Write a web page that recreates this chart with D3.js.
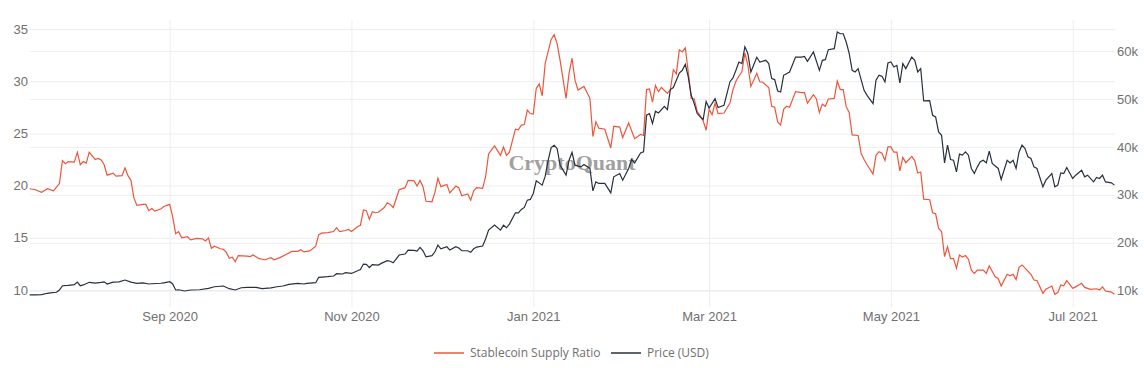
<!DOCTYPE html>
<html>
<head>
<meta charset="utf-8">
<script src="https://cdn.jsdelivr.net/npm/d3@7"></script>
<style>
  body { margin: 0; background: #fff; }
  svg { display: block; font-family: "Open Sans", sans-serif; }
  .axis text { fill: #707070; font-size: 13px; }
  .axis path { display: none; }
  .grid line { stroke: #eeeeee; stroke-width: 1; }
</style>
</head>
<body>
<svg width="1144" height="368"></svg>
<script>
// Stablecoin Supply Ratio (left axis)
var ssrDates = ['2020-07-16','2020-07-18','2020-07-20','2020-07-22','2020-07-24','2020-07-26','2020-07-27','2020-07-28','2020-07-29','2020-07-31',
  '2020-08-01','2020-08-02','2020-08-03','2020-08-04','2020-08-05','2020-08-07','2020-08-08','2020-08-09','2020-08-10','2020-08-11',
  '2020-08-13','2020-08-14','2020-08-16','2020-08-17','2020-08-18','2020-08-19','2020-08-20','2020-08-21','2020-08-23','2020-08-24',
  '2020-08-25','2020-08-26','2020-08-27','2020-08-29','2020-08-30','2020-09-01','2020-09-02','2020-09-03','2020-09-04','2020-09-05',
  '2020-09-07','2020-09-08','2020-09-10','2020-09-12','2020-09-13','2020-09-14','2020-09-15','2020-09-16','2020-09-18','2020-09-19',
  '2020-09-20','2020-09-21','2020-09-22','2020-09-23','2020-09-24','2020-09-27','2020-09-28','2020-09-29','2020-10-01','2020-10-03',
  '2020-10-05','2020-10-06','2020-10-08','2020-10-10','2020-10-12','2020-10-14','2020-10-15','2020-10-16','2020-10-18','2020-10-20',
  '2020-10-21','2020-10-22','2020-10-24','2020-10-26','2020-10-27','2020-10-28','2020-10-30','2020-10-31','2020-11-01','2020-11-03',
  '2020-11-04','2020-11-05','2020-11-06','2020-11-07','2020-11-08','2020-11-09','2020-11-10','2020-11-12','2020-11-13','2020-11-14',
  '2020-11-15','2020-11-17','2020-11-19','2020-11-20','2020-11-22','2020-11-23','2020-11-24','2020-11-25','2020-11-26','2020-11-28',
  '2020-11-29','2020-11-30','2020-12-01','2020-12-03','2020-12-04','2020-12-06','2020-12-07','2020-12-08','2020-12-10','2020-12-11',
  '2020-12-12','2020-12-13','2020-12-15','2020-12-16','2020-12-17','2020-12-19','2020-12-21','2020-12-22','2020-12-23','2020-12-24',
  '2020-12-26','2020-12-27','2020-12-28','2020-12-29','2020-12-30','2020-12-31','2021-01-01','2021-01-02','2021-01-03','2021-01-04',
  '2021-01-05','2021-01-07','2021-01-08','2021-01-09','2021-01-10','2021-01-12','2021-01-13','2021-01-14','2021-01-15','2021-01-16',
  '2021-01-18','2021-01-20','2021-01-21','2021-01-22','2021-01-23','2021-01-25','2021-01-27','2021-01-28','2021-01-30','2021-01-31',
  '2021-02-02','2021-02-04','2021-02-06','2021-02-07','2021-02-08','2021-02-09','2021-02-10','2021-02-11','2021-02-12','2021-02-13',
  '2021-02-15','2021-02-16','2021-02-17','2021-02-18','2021-02-19','2021-02-20','2021-02-21','2021-02-22','2021-02-23','2021-02-24',
  '2021-02-25','2021-02-26','2021-02-27','2021-02-28','2021-03-01','2021-03-02','2021-03-03','2021-03-04','2021-03-06','2021-03-08',
  '2021-03-09','2021-03-10','2021-03-11','2021-03-12','2021-03-13','2021-03-14','2021-03-15','2021-03-17','2021-03-18','2021-03-19',
  '2021-03-21','2021-03-22','2021-03-23','2021-03-24','2021-03-25','2021-03-26','2021-03-27','2021-03-28','2021-03-30','2021-04-01',
  '2021-04-02','2021-04-03','2021-04-05','2021-04-06','2021-04-07','2021-04-08','2021-04-09','2021-04-10','2021-04-12','2021-04-13',
  '2021-04-14','2021-04-15','2021-04-16','2021-04-17','2021-04-18','2021-04-20','2021-04-21','2021-04-22','2021-04-23','2021-04-25',
  '2021-04-26','2021-04-27','2021-04-28','2021-04-29','2021-04-30','2021-05-01','2021-05-02','2021-05-03','2021-05-04','2021-05-05',
  '2021-05-06','2021-05-08','2021-05-09','2021-05-10','2021-05-11','2021-05-12','2021-05-14','2021-05-15','2021-05-16','2021-05-17',
  '2021-05-18','2021-05-19','2021-05-20','2021-05-21','2021-05-22','2021-05-23','2021-05-24','2021-05-25','2021-05-26','2021-05-27',
  '2021-05-28','2021-05-29','2021-05-30','2021-06-01','2021-06-02','2021-06-03','2021-06-05','2021-06-06','2021-06-07','2021-06-09',
  '2021-06-10','2021-06-11','2021-06-12','2021-06-13','2021-06-14','2021-06-15','2021-06-17','2021-06-18','2021-06-19','2021-06-21',
  '2021-06-22','2021-06-24','2021-06-25','2021-06-26','2021-06-27','2021-06-28','2021-06-29','2021-07-01','2021-07-02','2021-07-04',
  '2021-07-05','2021-07-07','2021-07-09','2021-07-10','2021-07-11','2021-07-12','2021-07-14','2021-07-15'];
var ssrValues = [19.7,19.6,19.35,19.7,19.5,20.2,22.4,22.1,22.3,22.25,
  23.2,22.0,22.3,22.15,23.2,22.5,22.6,22.45,22.0,21.0,
  21.2,20.9,20.95,21.7,20.95,20.5,18.8,18.1,18.2,18.2,
  17.6,17.8,17.55,17.75,18.0,18.2,17.0,15.4,15.6,15.0,
  15.1,14.8,14.95,14.9,14.7,15.0,14.0,14.2,13.95,13.9,
  13.6,13.04,13.15,12.7,13.3,13.25,13.2,13.35,13.0,12.9,
  13.1,12.9,13.1,13.4,13.7,13.7,13.85,13.65,13.75,14.2,
  15.3,15.45,15.5,15.6,15.97,15.6,15.7,15.8,15.6,16.05,
  16.2,17.66,17.6,16.77,17.5,17.4,17.45,17.9,18.36,18.2,
  17.9,19.6,19.8,20.5,20.45,19.96,20.5,19.9,18.5,18.45,
  19.35,20.7,19.9,20.1,19.3,19.96,19.8,19.03,19.2,18.6,
  19.5,19.8,19.74,20.85,23.03,23.8,22.9,23.7,22.9,23.2,
  25.4,25.35,25.8,25.85,27.24,26.9,26.85,29.32,29.73,28.6,
  31.7,34.0,34.45,33.6,32.0,28.36,30.75,32.2,30.1,29.16,
  29.5,28.36,24.7,26.1,25.5,25.4,23.6,25.7,25.6,24.6,
  26.0,24.5,24.9,24.8,29.2,29.25,28.0,29.6,29.0,29.4,
  28.84,29.2,31.1,30.7,33.0,32.8,33.2,30.9,28.36,28.3,
  27.1,26.7,26.2,25.3,27.3,26.8,27.9,26.9,26.95,27.9,
  29.2,30.0,30.5,30.9,32.7,31.55,29.5,30.75,29.95,29.9,
  29.4,27.6,27.5,26.1,25.8,27.3,27.6,27.5,29.0,28.9,
  28.9,27.9,28.7,28.3,27.0,27.8,27.6,28.3,28.35,30.0,
  29.2,29.2,27.56,27.0,24.85,24.8,23.1,22.5,22.0,21.1,
  22.9,23.25,23.1,22.4,23.7,23.7,23.2,23.2,21.4,22.7,
  22.2,22.8,22.4,21.2,21.3,18.7,18.65,17.4,17.3,15.9,
  15.6,13.2,14.15,13.0,13.0,12.08,13.35,13.15,13.3,12.95,
  11.9,11.6,11.9,11.9,11.6,12.3,11.27,11.1,10.38,11.5,
  11.35,11.5,11.0,12.17,12.4,12.1,11.5,10.95,10.9,9.68,
  10.07,10.38,9.59,9.75,10.48,10.4,10.9,10.16,10.3,10.64,
  10.25,10.07,10.12,10.0,10.3,9.9,9.8,9.6];

// Price (USD) (right axis)
var priceDates = ['2020-07-16','2020-07-18','2020-07-20','2020-07-22','2020-07-23','2020-07-25','2020-07-26','2020-07-27','2020-07-29','2020-07-31',
  '2020-08-01','2020-08-02','2020-08-03','2020-08-05','2020-08-07','2020-08-09','2020-08-10','2020-08-11','2020-08-13','2020-08-15',
  '2020-08-17','2020-08-19','2020-08-21','2020-08-23','2020-08-25','2020-08-26','2020-08-29','2020-08-30','2020-09-01','2020-09-02',
  '2020-09-03','2020-09-04','2020-09-06','2020-09-08','2020-09-11','2020-09-14','2020-09-16','2020-09-19','2020-09-21','2020-09-23',
  '2020-09-25','2020-09-27','2020-09-30','2020-10-02','2020-10-05','2020-10-07','2020-10-09','2020-10-11','2020-10-14','2020-10-16',
  '2020-10-17','2020-10-20','2020-10-21','2020-10-24','2020-10-26','2020-10-27','2020-10-29','2020-10-30','2020-11-01','2020-11-03',
  '2020-11-04','2020-11-05','2020-11-06','2020-11-07','2020-11-08','2020-11-10','2020-11-11','2020-11-13','2020-11-14','2020-11-15',
  '2020-11-17','2020-11-19','2020-11-20','2020-11-22','2020-11-23','2020-11-24','2020-11-25','2020-11-26','2020-11-28','2020-11-29',
  '2020-11-30','2020-12-01','2020-12-03','2020-12-04','2020-12-06','2020-12-07','2020-12-08','2020-12-10','2020-12-11','2020-12-12',
  '2020-12-13','2020-12-15','2020-12-16','2020-12-17','2020-12-19','2020-12-21','2020-12-22','2020-12-23','2020-12-24','2020-12-26',
  '2020-12-27','2020-12-28','2020-12-29','2020-12-30','2020-12-31','2021-01-01','2021-01-02','2021-01-04','2021-01-05','2021-01-06',
  '2021-01-07','2021-01-08','2021-01-09','2021-01-10','2021-01-12','2021-01-13','2021-01-14','2021-01-15','2021-01-17','2021-01-18',
  '2021-01-20','2021-01-21','2021-01-22','2021-01-23','2021-01-25','2021-01-27','2021-01-28','2021-01-30','2021-01-31','2021-02-02',
  '2021-02-03','2021-02-04','2021-02-06','2021-02-07','2021-02-08','2021-02-09','2021-02-10','2021-02-11','2021-02-12','2021-02-14',
  '2021-02-15','2021-02-16','2021-02-17','2021-02-18','2021-02-19','2021-02-20','2021-02-21','2021-02-22','2021-02-23','2021-02-24',
  '2021-02-25','2021-02-26','2021-02-27','2021-02-28','2021-03-01','2021-03-03','2021-03-04','2021-03-06','2021-03-08','2021-03-09',
  '2021-03-10','2021-03-11','2021-03-12','2021-03-13','2021-03-14','2021-03-15','2021-03-17','2021-03-18','2021-03-20','2021-03-21',
  '2021-03-22','2021-03-23','2021-03-24','2021-03-25','2021-03-26','2021-03-28','2021-03-30','2021-04-01','2021-04-02','2021-04-03',
  '2021-04-05','2021-04-07','2021-04-08','2021-04-09','2021-04-10','2021-04-12','2021-04-13','2021-04-14','2021-04-15','2021-04-16',
  '2021-04-17','2021-04-18','2021-04-19','2021-04-20','2021-04-22','2021-04-23','2021-04-25','2021-04-26','2021-04-27','2021-04-28',
  '2021-04-29','2021-04-30','2021-05-01','2021-05-02','2021-05-03','2021-05-04','2021-05-05','2021-05-06','2021-05-08','2021-05-09',
  '2021-05-10','2021-05-11','2021-05-12','2021-05-14','2021-05-15','2021-05-16','2021-05-17','2021-05-18','2021-05-19','2021-05-20',
  '2021-05-21','2021-05-22','2021-05-23','2021-05-24','2021-05-25','2021-05-26','2021-05-27','2021-05-28','2021-05-29','2021-05-30',
  '2021-05-31','2021-06-01','2021-06-02','2021-06-03','2021-06-04','2021-06-06','2021-06-07','2021-06-09','2021-06-10','2021-06-11',
  '2021-06-12','2021-06-13','2021-06-14','2021-06-15','2021-06-16','2021-06-17','2021-06-18','2021-06-19','2021-06-21','2021-06-22',
  '2021-06-24','2021-06-25','2021-06-26','2021-06-27','2021-06-28','2021-06-29','2021-07-01','2021-07-02','2021-07-04','2021-07-05',
  '2021-07-06','2021-07-08','2021-07-09','2021-07-10','2021-07-11','2021-07-12','2021-07-14','2021-07-15'];
var priceValues = [9150,9150,9170,9460,9550,9670,10150,11040,11100,11250,
  11800,11040,11200,11750,11600,11750,11850,11400,11800,11850,
  12230,11800,11540,11650,11400,11450,11550,11650,11870,11400,
  10150,10200,9940,10150,10200,10500,10830,10980,10420,10150,
  10620,10700,10700,10420,10600,10830,10980,11330,11540,11400,
  11540,11670,12790,12930,13060,13550,13480,13750,13600,14170,
  14400,15560,15500,14830,15450,15350,15700,16250,16150,15830,
  17440,17650,18480,18400,18270,19040,18330,17080,17300,18120,
  19520,18750,19170,18480,19170,18900,18330,18330,18000,18750,
  19100,19310,20800,22640,23690,22640,23690,23130,23890,26250,
  26250,26950,27370,28890,29040,30290,32910,32020,33890,37220,
  39870,40350,39660,36180,34100,37220,38850,36180,35830,36330,
  35500,30830,32700,32370,32400,30410,33750,34450,33060,35500,
  37370,36660,38740,38950,46600,46950,44870,47430,47080,48470,
  47780,51950,52370,53890,55410,55970,57220,54580,50760,49030,
  46950,46250,45700,49450,48100,50080,48200,48680,53600,54370,
  55970,57700,57370,60900,59500,55620,58700,57700,58060,57370,
  54240,54040,51660,51450,54930,55620,58740,58740,58890,57860,
  59800,55970,58060,58200,60280,60480,63960,63600,63600,61880,
  59500,55970,55620,56320,51800,50760,49030,53890,54930,54720,
  53540,57490,57700,56660,57010,53330,57370,56320,58740,58060,
  55620,56320,49580,49650,46600,46250,43120,42430,36660,40350,
  37370,37220,34790,38480,38270,38950,38270,35500,34450,35830,
  36900,37220,36660,39100,36540,35500,33200,37220,36660,37220,
  35500,38950,40350,39660,37910,37580,35830,35500,31660,33060,
  34450,31660,32020,34580,34450,35700,33410,34100,35140,33750,
  34100,32700,33620,33410,34100,32700,32500,32020];

// Axis ticks
var ssrTicks = [10, 15, 20, 25, 30, 35];
var priceTicks = [10000, 20000, 30000, 40000, 50000, 60000];
var monthTicks = ['2020-09-01','2020-11-01','2021-01-01','2021-03-01','2021-05-01','2021-07-01'];
var seriesNames = ['Stablecoin Supply Ratio', 'Price (USD)'];
var seriesColors = ['#ef553b', '#28303d'];

var parseDate = d3.utcParse('%Y-%m-%d');
var svg = d3.select('svg');

var plot = {l: 30, r: 1115, t: 20, b: 307};

var xScale = d3.scaleUtc()
    .domain([parseDate('2020-09-01'), parseDate('2021-07-01')])
    .range([169.7, 1072.7]);
var yLeft = d3.scaleLinear().domain([10, 35]).range([290, 29]);
var yRight = d3.scaleLinear().domain([10000, 60000]).range([290.7, 51]);

// vertical grid + x labels
var xAxisG = svg.append('g')
    .attr('class', 'axis grid')
    .attr('transform', 'translate(0,' + plot.b + ')')
    .call(d3.axisBottom(xScale)
        .tickValues(monthTicks.map(parseDate))
        .tickSize(-(plot.b - plot.t))
        .tickPadding(5)
        .tickFormat(d3.utcFormat('%b %Y')));

// left grid + labels
svg.append('g')
    .attr('class', 'axis grid')
    .attr('transform', 'translate(' + plot.l + ',0)')
    .call(d3.axisLeft(yLeft)
        .tickValues(ssrTicks)
        .tickSize(-(plot.r - plot.l))
        .tickPadding(2));

// right grid + labels
svg.append('g')
    .attr('class', 'axis grid')
    .attr('transform', 'translate(' + plot.r + ',0)')
    .call(d3.axisRight(yRight)
        .tickValues(priceTicks)
        .tickSize(-(plot.r - plot.l))
        .tickPadding(2)
        .tickFormat(function(d) { return (d / 1000) + 'k'; }));

// watermark
svg.append('text')
    .attr('x', 572)
    .attr('y', 170)
    .attr('text-anchor', 'middle')
    .style('font-family', '"Liberation Serif", serif')
    .style('font-weight', 'bold')
    .style('font-size', '22px')
    .style('fill', '#a0a0a0')
    .text('CryptoQuant');

var ssrData = ssrDates.map(function(d, i) { return {date: parseDate(d), value: ssrValues[i]}; });
var priceData = priceDates.map(function(d, i) { return {date: parseDate(d), value: priceValues[i]}; });

var ssrLine = d3.line()
    .x(function(d) { return xScale(d.date); })
    .y(function(d) { return yLeft(d.value); });
var priceLine = d3.line()
    .x(function(d) { return xScale(d.date); })
    .y(function(d) { return yRight(d.value); });

svg.append('path')
    .datum(ssrData)
    .attr('fill', 'none')
    .attr('stroke', seriesColors[0])
    .attr('stroke-width', 1.2)
    .attr('d', ssrLine);

svg.append('path')
    .datum(priceData)
    .attr('fill', 'none')
    .attr('stroke', seriesColors[1])
    .attr('stroke-width', 1.2)
    .attr('d', priceLine);

// legend
var legendX = [434, 611];
var legend = svg.append('g');
seriesNames.forEach(function(name, i) {
    legend.append('line')
        .attr('x1', legendX[i]).attr('x2', legendX[i] + 30)
        .attr('y1', 353).attr('y2', 353)
        .attr('stroke', seriesColors[i])
        .attr('stroke-width', 1.5);
    legend.append('text')
        .attr('x', legendX[i] + 36)
        .attr('y', 357)
        .style('font-size', '12px')
        .style('fill', '#707070')
        .text(name);
});
</script>
</body>
</html>
